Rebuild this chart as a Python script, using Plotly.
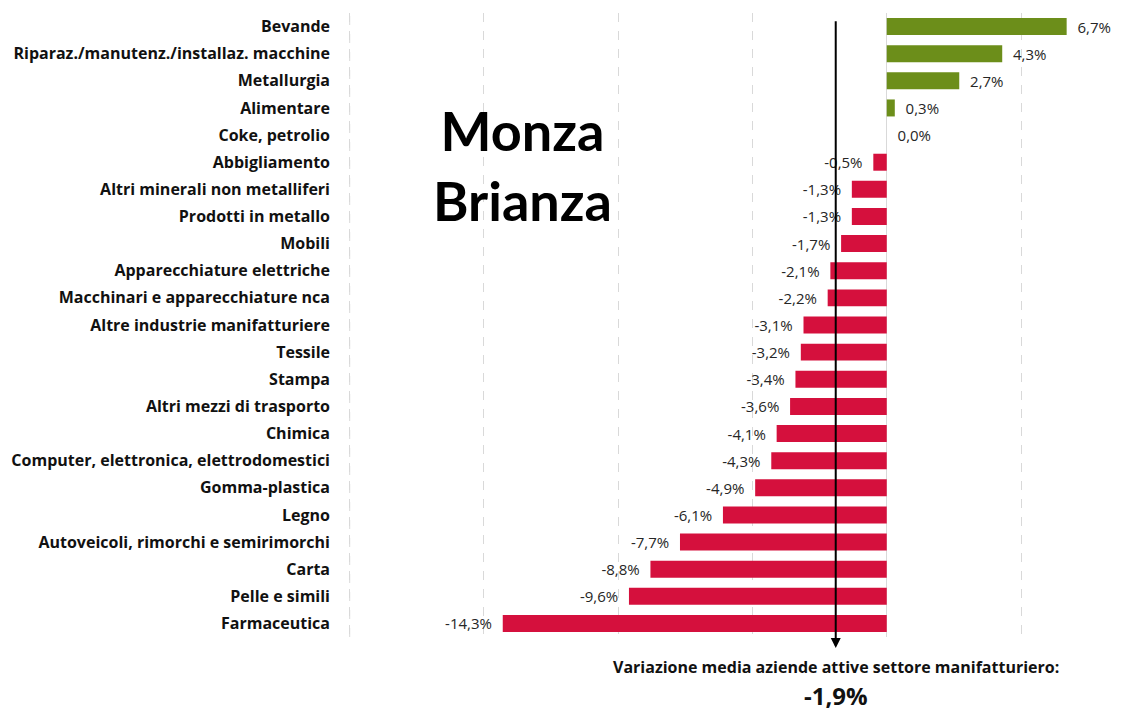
import plotly.graph_objects as go

categories = [
    "Bevande", "Riparaz./manutenz./installaz. macchine", "Metallurgia", "Alimentare",
    "Coke, petrolio", "Abbigliamento", "Altri minerali non metalliferi", "Prodotti in metallo",
    "Mobili", "Apparecchiature elettriche", "Macchinari e apparecchiature nca",
    "Altre industrie manifatturiere", "Tessile", "Stampa", "Altri mezzi di trasporto",
    "Chimica", "Computer, elettronica, elettrodomestici", "Gomma-plastica", "Legno",
    "Autoveicoli, rimorchi e semirimorchi", "Carta", "Pelle e simili", "Farmaceutica",
]
values = [6.7, 4.3, 2.7, 0.3, 0.0, -0.5, -1.3, -1.3, -1.7, -2.1, -2.2, -3.1, -3.2,
          -3.4, -3.6, -4.1, -4.3, -4.9, -6.1, -7.7, -8.8, -9.6, -14.3]
media = -1.9
x_min = -20
title_lines = ["Monza", "Brianza"]
note_text = "Variazione media aziende attive settore manifatturiero:"

GREEN = "#6C8E1A"
RED = "#D5103D"
GRID = "#D9D9D9"
FONT = "Open Sans, sans-serif"
TITLE_FONT = "Lato, Open Sans, sans-serif"
NBSP = "\u00a0"

colors = [GREEN if v >= 0 else RED for v in values]


def fmt(v):
    return f"{v:.1f}%".replace(".", ",")


labels = [(NBSP * 2 + fmt(v)) if v >= 0 else (fmt(v) + NBSP * 2) for v in values]

fig = go.Figure(go.Bar(
    x=values, y=categories, orientation="h",
    marker=dict(color=colors, line=dict(width=0)),
    width=0.626,
    text=labels, textposition="outside", cliponaxis=False, constraintext="none",
    textfont=dict(family=FONT, size=15, color="#262626"),
    hoverinfo="skip",
))

fig.update_layout(
    width=1137, height=703,
    margin=dict(l=339, r=30, t=5, b=74, autoexpand=False),
    paper_bgcolor="white", plot_bgcolor="white",
    showlegend=False,
    xaxis=dict(
        range=[x_min - 0.1, 8.5], dtick=5, tick0=0,
        showgrid=True, gridcolor=GRID, griddash="dash", gridwidth=1,
        zeroline=True, zerolinecolor=GRID, zerolinewidth=1,
        showticklabels=False, showline=False, fixedrange=True, automargin=False,
    ),
    yaxis=dict(
        categoryorder="array", categoryarray=categories[::-1],
        autorange=False, range=[-0.5, len(categories) - 0.5],
        showgrid=False, zeroline=False, showline=False, automargin=False,
        tickfont=dict(family=FONT, size=16, color="#111111", weight="bold"),
        ticklabelstandoff=16,
    ),
)

# leftmost dashed gridline (at the axis minimum)
fig.add_shape(
    type="line", xref="x", yref="y domain", x0=x_min, x1=x_min, y0=0, y1=1,
    line=dict(color=GRID, width=1, dash="dash"), layer="below",
)

# Arrow for the average
fig.add_annotation(
    x=media, y=-0.0176, xref="x", yref="y domain",
    ax=media, ay=0.989, axref="x", ayref="y domain",
    showarrow=True, arrowhead=2, arrowsize=1, arrowwidth=2, arrowcolor="black",
    text="",
)
fig.add_annotation(
    x=media, y=-0.0481, xref="x", yref="paper", showarrow=False,
    xanchor="center", yanchor="middle",
    text=f"<b>{note_text}</b>",
    font=dict(family=FONT, size=16, color="#111111"),
)
fig.add_annotation(
    x=media, y=-0.0938, xref="x", yref="paper", showarrow=False,
    xanchor="center", yanchor="middle",
    text="<b>" + fmt(media) + "</b>",
    font=dict(family=FONT, size=24, color="#111111"),
)
fig.add_annotation(
    x=0.228, y=0.755, xref="paper", yref="paper", showarrow=False,
    xanchor="center", yanchor="middle",
    text="<b>" + "<br>".join(title_lines) + "</b>",
    font=dict(family=TITLE_FONT, size=54, color="black"), align="center",
)

fig.write_html("out.html")
